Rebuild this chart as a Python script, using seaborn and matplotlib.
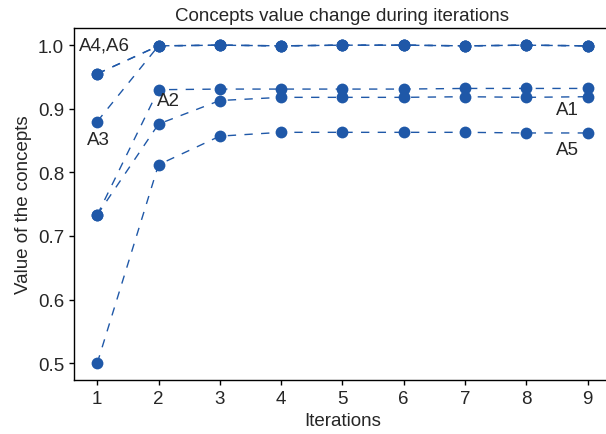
import numpy as np
import pandas as pd
import matplotlib
matplotlib.use("Agg")
import matplotlib.pyplot as plt
import seaborn as sns

# 数据
iterations = [1, 2, 3, 4, 5, 6, 7, 8, 9]
A1 = [0.733, 0.876, 0.913, 0.918, 0.918, 0.918, 0.919, 0.918, 0.919]
A2 = [0.733, 0.930, 0.931, 0.931, 0.931, 0.931, 0.932, 0.932, 0.932]
A3 = [0.880, 0.999, 1.000, 0.999, 1.000, 1.000, 0.999, 1.000, 0.999]
A4 = [0.955, 0.999, 1.000, 0.999, 1.000, 1.000, 0.999, 1.000, 0.999]
A5 = [0.500, 0.812, 0.857, 0.863, 0.863, 0.863, 0.863, 0.862, 0.862]
A6 = [0.955, 0.999, 1.000, 0.999, 1.000, 1.000, 0.999, 1.000, 0.999]
concepts = {'A1': A1, 'A2': A2, 'A3': A3, 'A4': A4, 'A5': A5, 'A6': A6}

sns.set_style("ticks")
plt.rcParams['font.family'] = ['Liberation Sans', 'DejaVu Sans']
plt.rcParams['lines.scale_dashes'] = False

blue = '#1f58a8'
fs = 13.5

fig = plt.figure(figsize=(6.06, 4.35), dpi=100)
ax = fig.add_axes([0.122, 0.124, 0.886, 0.809])

for name, vals in concepts.items():
    df = pd.DataFrame({'Iterations': iterations, 'value': vals})
    sns.lineplot(x='Iterations', y='value', data=df, ax=ax, color=blue,
                 marker='o', markersize=8.5, markeredgewidth=0,
                 linestyle=(0, (6, 6)), linewidth=1)

# 标签
ax.text(0.7, 1.0, 'A4,A6', ha='left', va='center', fontsize=fs)
ax.text(0.84, 0.852, 'A3', ha='left', va='center', fontsize=fs)
ax.text(1.98, 0.913, 'A2', ha='left', va='center', fontsize=fs)
ax.text(8.48, 0.899, 'A1', ha='left', va='center', fontsize=fs)
ax.text(8.48, 0.836, 'A5', ha='left', va='center', fontsize=fs)

ax.set_xlim(0.62, 9.38)
ax.set_ylim(0.4735, 1.0268)
ax.set_xticks(iterations)
ax.set_yticks([0.5, 0.6, 0.7, 0.8, 0.9, 1.0])
ax.set_yticklabels(['0.5', '0.6', '0.7', '0.8', '0.9', '1.0'])
ax.tick_params(labelsize=fs, length=3.5, width=1, color='black')
for s in ax.spines.values():
    s.set_color('black')
    s.set_linewidth(1)

ax.set_title('Concepts value change during iterations', fontsize=fs)
ax.set_xlabel('Iterations', fontsize=fs)
ax.set_ylabel('Value of the concepts', fontsize=fs)

fig.savefig('out.png', dpi=100)
